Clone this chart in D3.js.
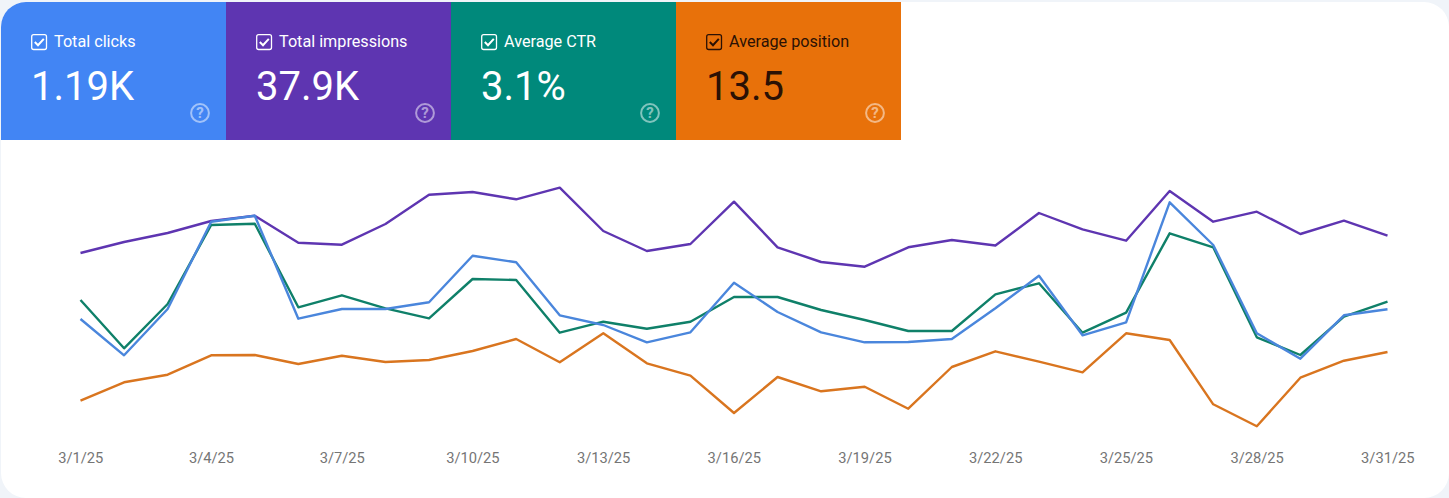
<!DOCTYPE html>
<html>
<head>
<meta charset="utf-8">
<script src="https://cdn.jsdelivr.net/npm/d3@7"></script>
<style>
html,body{margin:0;padding:0;background:#f0f4f9;overflow:hidden}
svg{display:block;font-family:Roboto,sans-serif}
</style>
</head>
<body>
<svg id="chart" width="1449" height="498"></svg>
<script>
const dates = ["3/1/25","3/2/25","3/3/25","3/4/25","3/5/25","3/6/25","3/7/25","3/8/25","3/9/25","3/10/25","3/11/25","3/12/25","3/13/25","3/14/25","3/15/25","3/16/25","3/17/25","3/18/25","3/19/25","3/20/25","3/21/25","3/22/25","3/23/25","3/24/25","3/25/25","3/26/25","3/27/25","3/28/25","3/29/25","3/30/25","3/31/25"];
const tickLabels = ["3/1/25","3/4/25","3/7/25","3/10/25","3/13/25","3/16/25","3/19/25","3/22/25","3/25/25","3/28/25","3/31/25"];

// Values are relative heights (the reference has no y axis).
const impressions = [197,208,217,229,234.3,207.3,205.3,226,255.3,258,250.7,262.3,219,199,206,248.3,202.7,188,183.3,202.7,210,204.5,237,220.7,209.3,259,228.3,238.3,216,229.3,214.3];
const ctr = [150,101.7,146,225,226.3,142.7,154.7,141.7,131.7,171,170,117.3,128.3,121.3,128.3,153,153,140,130,119,119,155.7,166.7,117.3,137.3,216.7,202.7,112.7,95,133.3,148.3];
const clicks = [131,94.7,141,228.3,234.3,131.3,141,141,147.7,194.3,187.7,134.7,125,107.7,117.7,167.3,138,117.7,107.7,108,111,141.7,174.3,114.7,127.7,247.7,205,116.7,91.3,134.7,140.7];
const position = [49.3,67.7,75.3,94.7,95,86,94.3,88,90,99,111,87.7,116.7,86.7,74.3,37,73,58.7,63.3,41.3,83,98.7,88.3,77.7,116.7,110,45.7,23.7,72.3,89.3,98];

const tileLabels = ["Total clicks","Total impressions","Average CTR","Average position"];
const tileValues = ["1.19K","37.9K","3.1%","13.5"];
const tileColors = ["#4285f4","#5e35b1","#00897b","#e8710a"];
const tileInk = ["#ffffff","#ffffff","#ffffff","#2b1105"];

const lineSeries = [
  {values: impressions, color: "#5e35b1"},
  {values: ctr, color: "#0f8069"},
  {values: clicks, color: "#4a86dc"},
  {values: position, color: "#d9751f"}
];

const W = 1449, H = 498;
const svg = d3.select("#chart");

svg.append("rect").attr("x",1).attr("y",2).attr("width",W-1).attr("height",H-2).attr("rx",25).attr("fill","#fff");

// tiles
const tileX = d3.scaleBand().domain(d3.range(tileLabels.length)).range([1,901]);
const clipId = "cardClip";
svg.append("clipPath").attr("id",clipId).append("rect").attr("x",1).attr("y",2).attr("width",W-1).attr("height",H-2).attr("rx",25);
const tiles = svg.append("g").attr("clip-path",`url(#${clipId})`).selectAll("g").data(tileLabels).join("g")
  .attr("transform",(d,i)=>`translate(${tileX(i)},2)`);
tiles.append("rect").attr("width",tileX.bandwidth()).attr("height",138).attr("fill",(d,i)=>tileColors[i]);
tiles.append("rect").attr("x",30.7).attr("y",32.7).attr("width",14.8).attr("height",14.8).attr("rx",2)
  .attr("fill","none").attr("stroke",(d,i)=>tileInk[i]).attr("stroke-width",1.3);
tiles.append("path").attr("d","M33.8 40l3.2 3.2l5.8-6.4").attr("fill","none").attr("stroke",(d,i)=>tileInk[i]).attr("stroke-width",2);
tiles.append("text").attr("x",53).attr("y",44.5).attr("font-size",16.2).attr("fill",(d,i)=>tileInk[i]).text(d=>d);
tiles.append("text").attr("x",30).attr("y",98).attr("font-size",40).attr("fill",(d,i)=>tileInk[i]).text((d,i)=>tileValues[i]);
const help = tiles.append("g").attr("transform","translate(199,111)").attr("opacity",0.5);
help.append("circle").attr("r",8.9).attr("fill","none").attr("stroke","#fff").attr("stroke-width",2);
help.append("text").attr("text-anchor","middle").attr("y",5.4).attr("font-size",15).attr("font-weight",700).attr("fill","#fff").text("?");

// plot
const x = d3.scalePoint().domain(dates).range([80.5,1387.5]);
const y = d3.scaleLinear().domain([0,300]).range([450,150]);
const line = d3.line().x((d,i)=>x(dates[i])).y(d=>y(d));

svg.append("g").selectAll("path").data(lineSeries).join("path")
  .attr("d",d=>line(d.values)).attr("fill","none").attr("stroke",d=>d.color)
  .attr("stroke-width",2.4).attr("stroke-linejoin","round");

const axis = d3.axisBottom(x).tickValues(tickLabels).tickSize(0).tickPadding(0);
const gx = svg.append("g").attr("transform","translate(-0.2,450)").call(axis);
gx.select(".domain").remove();
gx.selectAll("text").attr("font-family","Roboto,sans-serif").attr("font-size",14.7).attr("fill","#757575").attr("dy",0).attr("y",12.5);
</script>
</body>
</html>
